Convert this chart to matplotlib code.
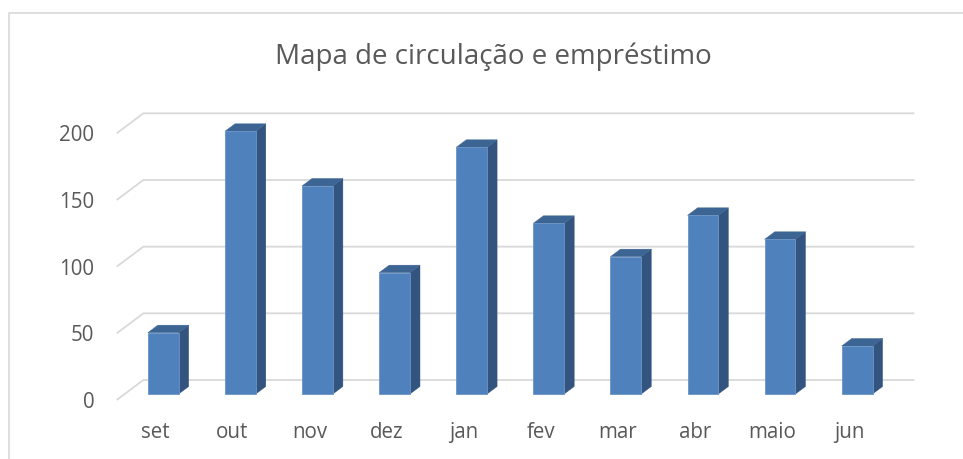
import matplotlib
matplotlib.use('Agg')
import matplotlib.pyplot as plt
from matplotlib.patches import Polygon

# data
months = ['set', 'out', 'nov', 'dez', 'jan', 'fev', 'mar', 'abr', 'maio', 'jun']
values = [46, 197, 156, 91, 185, 128, 103, 134, 116, 36]
yticks = [0, 50, 100, 150, 200]
title = 'Mapa de circulação e empréstimo'

W, H = 963, 459
text_col = '#595959'
grid_col = '#d9d9d9'
front_col = '#4f81bd'
side_col = '#32547f'
top_col = '#3d6594'

plt.rcParams['font.family'] = ['Open Sans', 'DejaVu Sans']

fig = plt.figure(figsize=(W / 100, H / 100), dpi=100)
# plot area: front floor 116.7..887.7 px, value 0 at 400 px, 200 at 133.3 px
ax = fig.add_axes([116.7 / W, (H - 400) / H, 771 / W, 266.7 / H])
ax.set_xlim(0, len(months))
ax.set_ylim(0, 200)
for s in ax.spines.values():
    s.set_visible(False)

# depth of the 3d box in data units (26.7 px right, 20 px up)
dx = 26.7 / 77.1
dy = 20 / (266.7 / 200)

# back wall gridlines + side wall diagonals
for v in yticks:
    ax.plot([0, dx, len(months) + dx], [v, v + dy, v + dy], color=grid_col,
            lw=1.3, clip_on=False, zorder=1, solid_capstyle='butt')

# bars
d0, d1 = 0.3, 0.675
bw = 0.4
for i, v in enumerate(values):
    x0 = i + 0.5 - bw / 2 + d0 * dx
    x1 = x0 + bw
    y0 = d0 * dy
    y1 = v + d0 * dy
    ddx = (d1 - d0) * dx
    ddy = (d1 - d0) * dy
    front = Polygon([(x0, y0), (x1, y0), (x1, y1), (x0, y1)], closed=True,
                    facecolor=front_col, edgecolor='#6b93c6', lw=0.6, zorder=3, clip_on=False)
    side = Polygon([(x1, y0), (x1 + ddx, y0 + ddy), (x1 + ddx, y1 + ddy), (x1, y1)], closed=True,
                   facecolor=side_col, edgecolor=side_col, lw=0.3, zorder=3, clip_on=False)
    top = Polygon([(x0, y1), (x1, y1), (x1 + ddx, y1 + ddy), (x0 + ddx, y1 + ddy)], closed=True,
                  facecolor=top_col, edgecolor=top_col, lw=0.3, zorder=3, clip_on=False)
    ax.add_patch(side)
    ax.add_patch(top)
    ax.add_patch(front)

ax.set_yticks(yticks)
ax.set_yticklabels([str(t) for t in yticks])
ax.set_xticks([i + 0.5 for i in range(len(months))])
ax.set_xticklabels(months)
ax.tick_params(axis='y', length=0, pad=16, labelsize=14.8, labelcolor=text_col)
ax.tick_params(axis='x', length=0, pad=16, labelsize=14.8, labelcolor=text_col)

fig.text(493.5 / W, 1 - 64 / H, title, ha='center', va='baseline',
         fontsize=20, color=text_col)

# chart frame (left and top edges visible)
fig.add_artist(plt.Line2D([9 / W, 9 / W, 1], [0, 1 - 13 / H, 1 - 13 / H],
                          color=grid_col, lw=1.2))

fig.savefig('out.png', dpi=100, facecolor='white')
